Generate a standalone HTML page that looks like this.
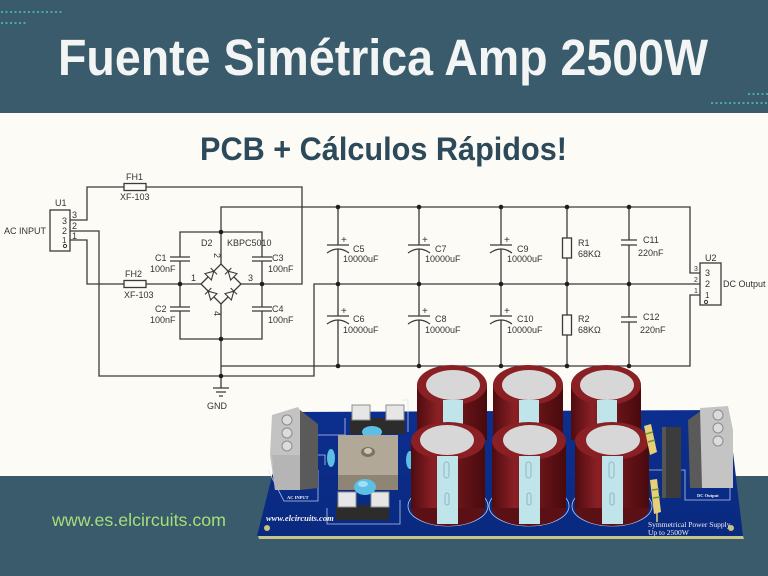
<!DOCTYPE html>
<html><head><meta charset="utf-8"><style>
html,body{margin:0;padding:0;background:#fdfbf6;}
svg{display:block;}
</style></head><body>
<svg width="768" height="576" viewBox="0 0 768 576" xmlns="http://www.w3.org/2000/svg">
<defs>
<linearGradient id="cap" x1="0" x2="1" y1="0" y2="0">
<stop offset="0" stop-color="#4e0c10"/><stop offset="0.3" stop-color="#8a2025"/><stop offset="0.6" stop-color="#6d161a"/><stop offset="1" stop-color="#480a0d"/>
</linearGradient>
<linearGradient id="board" x1="0" x2="0" y1="0" y2="1">
<stop offset="0" stop-color="#0c2e8e"/><stop offset="1" stop-color="#0a2a80"/>
</linearGradient>
</defs>
<rect width="768" height="576" fill="#fdfbf6"/>
<!-- header -->
<rect x="0" y="0" width="768" height="113" fill="#395b6b"/>
<g fill="#4aa9b0">
<rect x="1" y="11" width="2" height="2"/><rect x="5.5" y="11" width="2" height="2"/><rect x="10" y="11" width="2" height="2"/><rect x="14.5" y="11" width="2" height="2"/><rect x="19" y="11" width="2" height="2"/><rect x="23.5" y="11" width="2" height="2"/><rect x="28" y="11" width="2" height="2"/><rect x="32.5" y="11" width="2" height="2"/><rect x="37" y="11" width="2" height="2"/><rect x="41.5" y="11" width="2" height="2"/><rect x="46" y="11" width="2" height="2"/><rect x="50.5" y="11" width="2" height="2"/><rect x="55" y="11" width="2" height="2"/><rect x="59.5" y="11" width="2" height="2"/>
<rect x="1" y="22" width="2" height="2"/><rect x="5.5" y="22" width="2" height="2"/><rect x="10" y="22" width="2" height="2"/><rect x="14.5" y="22" width="2" height="2"/><rect x="19" y="22" width="2" height="2"/><rect x="23.5" y="22" width="2" height="2"/>
<rect x="748" y="93" width="2" height="2"/><rect x="752.5" y="93" width="2" height="2"/><rect x="757" y="93" width="2" height="2"/><rect x="761.5" y="93" width="2" height="2"/><rect x="766" y="93" width="2" height="2"/>
<rect x="711" y="102" width="2" height="2"/><rect x="715.5" y="102" width="2" height="2"/><rect x="720" y="102" width="2" height="2"/><rect x="724.5" y="102" width="2" height="2"/><rect x="729" y="102" width="2" height="2"/><rect x="733.5" y="102" width="2" height="2"/><rect x="738" y="102" width="2" height="2"/><rect x="742.5" y="102" width="2" height="2"/><rect x="747" y="102" width="2" height="2"/><rect x="751.5" y="102" width="2" height="2"/><rect x="756" y="102" width="2" height="2"/><rect x="760.5" y="102" width="2" height="2"/><rect x="765" y="102" width="2" height="2"/>
</g>
<text x="58" y="75" font-family="Liberation Sans, sans-serif" font-weight="bold" font-size="51" fill="#f3f4f4" textLength="650" lengthAdjust="spacingAndGlyphs">Fuente Simétrica Amp 2500W</text>
<text x="200" y="160" font-family="Liberation Sans, sans-serif" font-weight="bold" font-size="32" fill="#2c4a5a" textLength="367" lengthAdjust="spacingAndGlyphs">PCB + Cálculos Rápidos!</text>

<!-- bottom band -->
<rect x="0" y="476" width="768" height="100" fill="#395b6b"/>
<text x="52" y="526" font-family="Liberation Sans, sans-serif" font-size="17.7" fill="#a6de7c" textLength="174" lengthAdjust="spacingAndGlyphs">www.es.elcircuits.com</text>

<!-- schematic -->
<g fill="none" stroke="#3a3a3a" stroke-width="1.3">
<path d="M70 220 H87 V187 H124"/>
<path d="M146 187 H302 V284 H262"/>
<path d="M70 231 H99 V376 H314 V284 H700"/>
<path d="M70 240 H87 V284 H124"/>
<path d="M146 284 H201"/>
<path d="M241 284 H262"/>
<path d="M221 264 V207 H690 V273 H700"/>
<path d="M221 304 V376"/>
<path d="M221 366 H690 V295 H700"/>
<path d="M221 376 V388"/>
<path d="M213 388 H229 M216 392 H226 M219 396 H223"/>
<rect x="124" y="183.5" width="22" height="7"/>
<rect x="124" y="280.5" width="22" height="7"/>
<rect x="50" y="210" width="20" height="41"/>
<rect x="700" y="263" width="21" height="42"/>
<path d="M180 257 V232 H262 V257"/>
<path d="M180 261 V307"/>
<path d="M262 261 V307"/>
<path d="M180 311 V339 H262 V311"/>
<path d="M170 257 H190 M170 261 H190 M170 307 H190 M170 311 H190 M252 257 H272 M252 261 H272 M252 307 H272 M252 311 H272"/>
<!-- diamond -->
<path d="M201 284 L221 264 L241 284 L221 304 Z"/>
<!-- electrolytics -->
<path d="M338 207 V245 M327 245 H349 M327 253 Q338 245 349 253 M338 249 V316 M327 316 H349 M327 324 Q338 316 349 324 M338 320 V366"/>
<path d="M419 207 V245 M408 245 H430 M408 253 Q419 245 430 253 M419 249 V316 M408 316 H430 M408 324 Q419 316 430 324 M419 320 V366"/>
<path d="M501 207 V245 M490 245 H512 M490 253 Q501 245 512 253 M501 249 V316 M490 316 H512 M490 324 Q501 316 512 324 M501 320 V366"/>
<!-- resistors -->
<path d="M567 207 V238 M567 258 V315 M567 335 V366"/>
<rect x="562.5" y="238" width="9" height="20"/>
<rect x="562.5" y="315" width="9" height="20"/>
<!-- C11 C12 -->
<path d="M629 207 V240 M621 240 H637 M621 245 H637 M629 245 V317 M621 317 H637 M621 322 H637 M629 322 V366"/>
</g>
<!-- diodes -->
<g fill="#fdfbf6" stroke="#3a3a3a" stroke-width="1.1">
<polygon points="211.35,280.01 204.99,273.65 213.83,271.17"/>
<path d="M217.01 274.35 L210.65 267.99"/>
<polygon points="237.01,273.65 230.65,280.01 228.17,271.17"/>
<path d="M231.35 267.99 L224.99 274.35"/>
<polygon points="217.01,293.65 210.65,300.01 208.17,291.17"/>
<path d="M211.35 287.99 L204.99 294.35"/>
<polygon points="231.35,300.01 224.99,293.65 233.83,291.17"/>
<path d="M237.01 294.35 L230.65 287.99"/>
</g>
<!-- dots -->
<g fill="#1e1e1e">
<circle cx="221" cy="232" r="2.3"/><circle cx="180" cy="284" r="2.3"/><circle cx="262" cy="284" r="2.3"/><circle cx="221" cy="339" r="2.3"/><circle cx="221" cy="376" r="2.3"/>
<circle cx="338" cy="207" r="2.3"/><circle cx="419" cy="207" r="2.3"/><circle cx="501" cy="207" r="2.3"/><circle cx="567" cy="207" r="2.3"/><circle cx="629" cy="207" r="2.3"/>
<circle cx="338" cy="284" r="2.3"/><circle cx="419" cy="284" r="2.3"/><circle cx="501" cy="284" r="2.3"/><circle cx="567" cy="284" r="2.3"/><circle cx="629" cy="284" r="2.3"/>
<circle cx="338" cy="366" r="2.3"/><circle cx="419" cy="366" r="2.3"/><circle cx="501" cy="366" r="2.3"/><circle cx="567" cy="366" r="2.3"/><circle cx="629" cy="366" r="2.3"/>
</g>
<circle cx="65" cy="246" r="1.6" fill="none" stroke="#333" stroke-width="1"/>
<circle cx="706" cy="302" r="1.6" fill="none" stroke="#333" stroke-width="1"/>
<!-- schematic text -->
<g font-family="Liberation Sans, sans-serif" font-size="9" fill="#333">
<text x="126" y="180">FH1</text>
<text x="120" y="200">XF-103</text>
<text x="125" y="277">FH2</text>
<text x="124" y="298">XF-103</text>
<text x="55" y="206">U1</text>
<text x="4" y="234">AC INPUT</text>
<text x="62" y="224">3</text><text x="62" y="234">2</text><text x="62" y="243" font-size="8">1</text>
<text x="72" y="218">3</text><text x="72" y="229">2</text><text x="72" y="239">1</text>
<text x="155" y="261">C1</text><text x="150" y="272">100nF</text>
<text x="155" y="312">C2</text><text x="150" y="323">100nF</text>
<text x="272" y="261">C3</text><text x="268" y="272">100nF</text>
<text x="272" y="312">C4</text><text x="268" y="323">100nF</text>
<text x="201" y="246">D2</text><text x="227" y="246">KBPC5010</text>
<text x="191" y="281">1</text><text x="248" y="281">3</text>
<text x="0" y="0" transform="translate(214,253) rotate(90)">2</text>
<text x="0" y="0" transform="translate(214,311) rotate(90)">4</text>
<text x="207" y="409">GND</text>
<text x="341" y="243" font-size="10">+</text><text x="422" y="243" font-size="10">+</text><text x="504" y="243" font-size="10">+</text>
<text x="341" y="314" font-size="10">+</text><text x="422" y="314" font-size="10">+</text><text x="504" y="314" font-size="10">+</text>
<text x="353" y="252">C5</text><text x="343" y="262">10000uF</text>
<text x="435" y="252">C7</text><text x="425" y="262">10000uF</text>
<text x="517" y="252">C9</text><text x="507" y="262">10000uF</text>
<text x="353" y="322">C6</text><text x="343" y="333">10000uF</text>
<text x="435" y="322">C8</text><text x="425" y="333">10000uF</text>
<text x="517" y="322">C10</text><text x="507" y="333">10000uF</text>
<text x="578" y="246">R1</text><text x="578" y="257">68KΩ</text>
<text x="578" y="322">R2</text><text x="578" y="333">68KΩ</text>
<text x="643" y="243">C11</text><text x="638" y="256">220nF</text>
<text x="643" y="320">C12</text><text x="640" y="333">220nF</text>
<text x="705" y="261">U2</text>
<text x="723" y="287">DC Output</text>
<text x="705" y="276">3</text><text x="705" y="287">2</text><text x="705" y="298" font-size="8">1</text>
<text x="694" y="271" font-size="7">3</text><text x="694" y="282" font-size="7">2</text><text x="694" y="293" font-size="7">1</text>
</g>

<!-- PCB -->
<polygon points="258,536 743,536 744,539 259,539" fill="#c6c68c"/>
<polygon points="288,412 728,410 743,536 257,536" fill="url(#board)"/>
<!-- silkscreen -->
<g fill="none" stroke="#d8e2ff" stroke-width="0.8" opacity="0.85">
<path d="M268 470 L284 501 H318 V470"/>
<path d="M318 455 H325 V465"/>
<path d="M302 416 V435 H345 V418"/>
<path d="M402 400 H408 V432"/>
<path d="M327 508 V524 H400 V500"/>
<path d="M648 455 V470 H685 V500 H730 V485"/>
<ellipse cx="448" cy="506" rx="40" ry="20"/>
<ellipse cx="529" cy="506" rx="40" ry="20"/>
<ellipse cx="612" cy="506" rx="40" ry="20"/>
</g>
<!-- mounting holes -->
<circle cx="267" cy="528" r="3" fill="#c9c27c"/>
<circle cx="731" cy="528" r="3" fill="#c9c27c"/>
<!-- left terminal -->
<polygon points="300,410 318,424 318,488 300,490" fill="#5a5a5a"/>
<polygon points="272,415 298,407 300,410 300,490 275,490 270,455" fill="#c3c3c3"/>
<polygon points="272,455 300,455 300,490 275,490" fill="#b5b5b5"/>
<g fill="#dcdcdc" stroke="#8c8c8c" stroke-width="1">
<circle cx="287" cy="420" r="5"/><circle cx="287" cy="433" r="5"/><circle cx="287" cy="446" r="5"/>
</g>
<!-- right terminal -->
<polygon points="688,420 702,410 702,488 690,488" fill="#5a5a5a"/>
<polygon points="700,408 728,406 733,430 733,488 702,488" fill="#c4c4c4"/>
<g fill="#dcdcdc" stroke="#8c8c8c" stroke-width="1">
<circle cx="718" cy="415" r="5"/><circle cx="718" cy="428" r="5"/><circle cx="718" cy="441" r="5"/>
</g>
<!-- fuse holders -->
<rect x="350" y="418" width="55" height="16" fill="#2c2c2c"/>
<rect x="352" y="405" width="18" height="15" fill="#e6e6e6" stroke="#8f8f8f" stroke-width="1"/>
<rect x="386" y="405" width="18" height="15" fill="#e6e6e6" stroke="#8f8f8f" stroke-width="1"/>
<rect x="336" y="505" width="53" height="15" fill="#2c2c2c"/>
<rect x="338" y="492" width="18" height="15" fill="#e6e6e6" stroke="#8f8f8f" stroke-width="1"/>
<rect x="371" y="492" width="18" height="15" fill="#e6e6e6" stroke="#8f8f8f" stroke-width="1"/>
<!-- blue discs -->
<ellipse cx="372" cy="432" rx="10" ry="6" fill="#5cc0e6"/>
<ellipse cx="331" cy="458" rx="4" ry="9" fill="#5cc0e6"/>
<ellipse cx="410" cy="460" rx="4" ry="9" fill="#5cc0e6"/>
<!-- bridge -->
<rect x="338" y="435" width="60" height="40" fill="#b1a898"/>
<rect x="338" y="475" width="60" height="15" fill="#8e8574"/>
<ellipse cx="368" cy="452" rx="7" ry="5" fill="#7d7260"/>
<ellipse cx="368" cy="451" rx="4" ry="3" fill="#cfc7b4"/>
<ellipse cx="365" cy="487" rx="11" ry="8" fill="#5cc0e6"/>
<ellipse cx="363" cy="484" rx="5" ry="3" fill="#9fe0f5"/>
<!-- back row caps -->
<g>
<rect x="417" y="385" width="70" height="55" fill="url(#cap)"/>
<ellipse cx="452" cy="385" rx="35" ry="20" fill="#8a1f24"/>
<ellipse cx="453" cy="385" rx="27" ry="15" fill="#d7d7d7"/>
<rect x="443" y="400" width="20" height="30" fill="#bfe4ea"/>
<rect x="493" y="385" width="70" height="55" fill="url(#cap)"/>
<ellipse cx="528" cy="385" rx="35" ry="20" fill="#8a1f24"/>
<ellipse cx="529" cy="385" rx="27" ry="15" fill="#d7d7d7"/>
<rect x="519" y="400" width="20" height="30" fill="#bfe4ea"/>
<rect x="571" y="385" width="70" height="55" fill="url(#cap)"/>
<ellipse cx="606" cy="385" rx="35" ry="20" fill="#8a1f24"/>
<ellipse cx="607" cy="385" rx="27" ry="15" fill="#d7d7d7"/>
<rect x="597" y="400" width="20" height="30" fill="#bfe4ea"/>
</g>
<!-- front row caps -->
<g>
<ellipse cx="448" cy="508" rx="37" ry="18" fill="#5a1014"/>
<rect x="411" y="441" width="74" height="67" fill="url(#cap)"/>
<ellipse cx="448" cy="441" rx="37" ry="19" fill="#8a1f24"/>
<ellipse cx="447" cy="440" rx="27" ry="15" fill="#d7d7d7"/>
<rect x="437" y="456" width="21" height="68" fill="#bfe4ea"/>
<ellipse cx="529" cy="508" rx="37" ry="18" fill="#5a1014"/>
<rect x="492" y="441" width="74" height="67" fill="url(#cap)"/>
<ellipse cx="529" cy="441" rx="37" ry="19" fill="#8a1f24"/>
<ellipse cx="530" cy="440" rx="27" ry="15" fill="#d7d7d7"/>
<rect x="519" y="456" width="21" height="68" fill="#bfe4ea"/>
<ellipse cx="612" cy="508" rx="37" ry="18" fill="#5a1014"/>
<rect x="575" y="441" width="74" height="67" fill="url(#cap)"/>
<ellipse cx="612" cy="441" rx="37" ry="19" fill="#8a1f24"/>
<ellipse cx="613" cy="440" rx="27" ry="15" fill="#d7d7d7"/>
<rect x="602" y="456" width="21" height="68" fill="#bfe4ea"/>
</g>
<g fill="none" stroke="#8fb7c0" stroke-width="1">
<rect x="444" y="462" width="5" height="16" rx="2.5"/><rect x="445" y="493" width="4" height="12" rx="2"/>
<rect x="526" y="462" width="5" height="16" rx="2.5"/><rect x="527" y="493" width="4" height="12" rx="2"/>
<rect x="609" y="462" width="5" height="16" rx="2.5"/><rect x="610" y="493" width="4" height="12" rx="2"/>
</g>
<!-- resistors -->
<polygon points="644,426 651,424 657,452 650,455" fill="#e6cf78"/>
<polygon points="650,480 657,479 661,512 654,514" fill="#e6cf78"/>
<path d="M646 434 L653 432 M648 442 L655 440 M652 490 L659 489 M653 498 L660 497" stroke="#6a9a3a" stroke-width="1.5"/>
<path d="M657 513 V522" stroke="#e6cf78" stroke-width="1.5"/>
<!-- black comp -->
<rect x="662" y="427" width="19" height="71" fill="#3c3c3c"/>
<rect x="662" y="427" width="4" height="71" fill="#555"/>
<!-- board text -->
<g font-family="Liberation Serif, serif" fill="#f2f2f2">
<text x="266" y="521" font-size="8.5" font-style="italic" font-weight="bold">www.elcircuits.com</text>
<text x="648" y="527" font-size="7.5">Symmetrical Power Supply</text>
<text x="648" y="535" font-size="7.5">Up to 2500W</text>
<text x="287" y="499" font-size="4.5" font-weight="bold">AC INPUT</text>
<text x="697" y="497" font-size="4.5" font-weight="bold">DC Output</text>
</g>
</svg>
</body></html>
